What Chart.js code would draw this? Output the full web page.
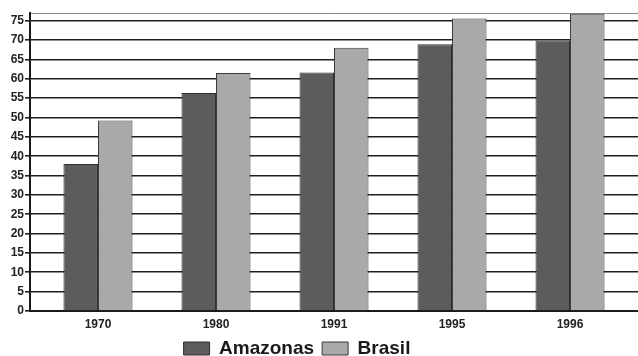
<!DOCTYPE html>
<html>
<head>
<meta charset="utf-8">
<script src="https://cdn.jsdelivr.net/npm/chart.js@4"></script>
<style>
  html, body { margin: 0; padding: 0; background: #fff; }
  #wrap { width: 638px; height: 356px; }
</style>
</head>
<body>
<div id="wrap"><canvas id="chart"></canvas></div>
<script>
// data
const years = ['1970', '1980', '1991', '1995', '1996'];
const amazonas = [38, 56.3, 61.6, 68.9, 69.9];
const brasil = [49.2, 61.5, 68, 75.6, 76.8];

Chart.defaults.font.family = '"Liberation Sans", Arial, sans-serif';
Chart.defaults.font.weight = 'bold';
Chart.defaults.color = '#222';

// bars are placed on a linear index axis so the groups can sit a bit
// inside the left axis line, as in the original
const toPoints = arr => arr.map((v, i) => ({ x: i, y: v }));

const legendShift = {
    id: 'legendShift',
    afterLayout(chart) {
        chart.legend.right -= 44;
    }
};

new Chart(document.getElementById('chart'), {
    type: 'bar',
    data: {
        datasets: [{
            label: 'Amazonas',
            data: toPoints(amazonas),
            backgroundColor: '#5e5c5a',
            borderColor: '#2e2e2e',
            borderWidth: 1
        }, {
            label: 'Brasil',
            data: toPoints(brasil),
            backgroundColor: '#a9a9a9',
            borderColor: '#3a3a3a',
            borderWidth: 1
        }]
    },
    plugins: [legendShift],
    options: {
        responsive: true,
        maintainAspectRatio: false,
        animation: false,
        categoryPercentage: 0.585,
        barPercentage: 1,
        layout: { padding: { top: 13, left: 0, right: 0, bottom: -12 } },
        plugins: {
            tooltip: { enabled: false },
            legend: {
                position: 'bottom',
                labels: {
                    boxWidth: 26,
                    boxHeight: 13,
                    padding: 8,
                    color: '#1a1a1a',
                    font: { size: 19, weight: 'bold' }
                }
            }
        },
        scales: {
            x: {
                type: 'linear',
                min: -0.576,
                max: 4.576,
                offset: false,
                grid: { display: false, drawTicks: false },
                border: { color: '#1a1a1a', width: 2 },
                ticks: {
                    stepSize: 1,
                    includeBounds: false,
                    padding: 6,
                    font: { size: 12, weight: 'bold' },
                    callback: v => Number.isInteger(v) ? years[v] : ''
                },
                afterFit: s => { s.height = 20; }
            },
            // thin frame line along the top of the plot
            xTop: {
                type: 'linear',
                position: 'top',
                min: -0.576,
                max: 4.576,
                grid: { display: false, drawTicks: false },
                border: { color: '#8a8a8a', width: 1 },
                ticks: { display: false },
                afterFit: s => { s.height = 0; }
            },
            y: {
                min: 0,
                max: 77,
                grid: {
                    color: '#1e1e1e',
                    lineWidth: 1.6,
                    tickLength: 5
                },
                border: { color: '#1a1a1a', width: 2 },
                ticks: {
                    stepSize: 5,
                    includeBounds: false,
                    padding: 1,
                    font: { size: 12, weight: 'bold' }
                },
                afterFit: s => { s.width = 30; }
            }
        }
    }
});
</script>
</body>
</html>
